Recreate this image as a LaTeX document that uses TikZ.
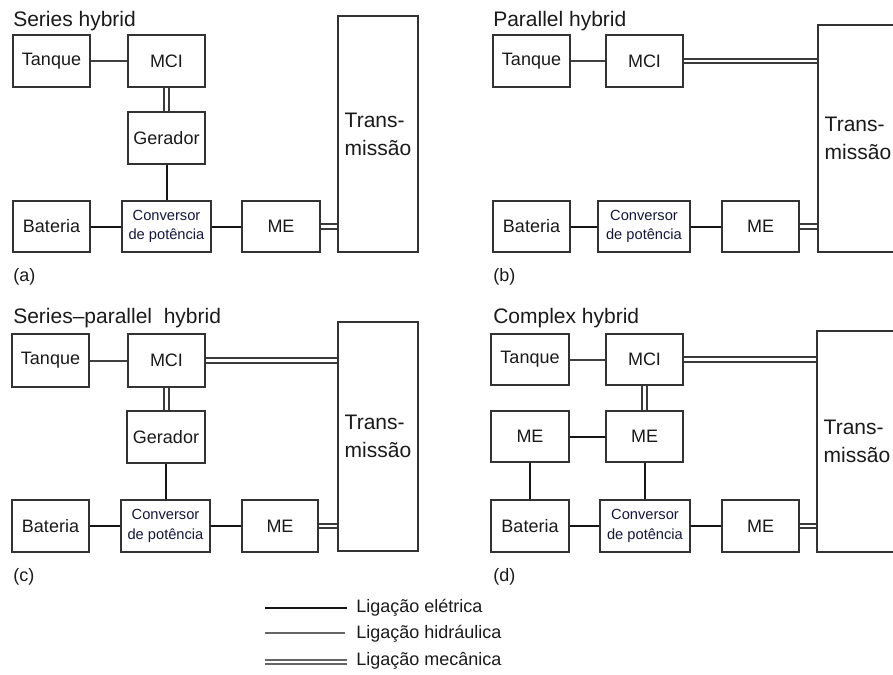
\documentclass[tikz,border=0pt]{standalone}
\usepackage{fontspec}
\setmainfont{Liberation Sans}
\definecolor{boxc}{HTML}{333333}
\definecolor{txt}{HTML}{1A1A1A}
\definecolor{elc}{HTML}{151515}
\definecolor{hydc}{HTML}{404040}
\definecolor{mechc}{HTML}{3A3A3A}
\tikzset{
  box/.style={draw=boxc, line width=1.4pt, fill=white, inner sep=0pt, text=txt,
    font=\fontsize{13.5}{16}\selectfont},
  conv/.style={align=center, font=\fontsize{11}{14.5}\selectfont, text=txt!85!blue},
  trans/.style={align=left, font=\fontsize{15.75}{21}\selectfont},
  elec/.style={draw=elc, line width=1.5pt},
  hyd/.style={draw=hydc, line width=1.5pt},
  mech/.style={draw=mechc, line width=1.5pt, double=white, double distance=2.2pt},
  ttl/.style={anchor=base west, inner sep=0pt, text=txt, font=\fontsize{15.75}{18}\selectfont},
  lab/.style={anchor=west, inner sep=0pt, text=txt, font=\fontsize{13.5}{16}\selectfont},
}
\newcommand\bx[7][]{%
  \pgfmathsetmacro\bxcx{(#3+#5)/2}%
  \pgfmathsetmacro\bxcy{(#4+#6)/2}%
  \pgfmathsetmacro\bxw{(#5-#3)*0.75}%
  \pgfmathsetmacro\bxh{(#6-#4)*0.75}%
  \node[box,#1,minimum width=\bxw pt,minimum height=\bxh pt] (#2) at (\bxcx,\bxcy) {#7};}
\begin{document}
\begin{tikzpicture}[x=0.75pt,y=-0.75pt]
\useasboundingbox (0,0) rectangle (893,675);
\clip (0,0) rectangle (893,675);

% ---------- (a) Series hybrid
\node[ttl] (ta) at (13,26) {Series hybrid};
\bx{aT}{13}{35}{90}{87}{Tanque}
\bx{aM}{128}{35}{205}{87}{MCI}
\bx{aG}{128}{112}{205}{164}{Gerador}
\bx{aB}{13}{201}{90}{252}{Bateria}
\bx[conv]{aC}{122}{201}{211}{252}{Conversor\\de potência}
\bx{aE}{242}{201}{320}{252}{ME}
\bx[trans]{aX}{338}{16}{418}{252}{Trans-\\missão}
\draw[hyd] (aT.east) -- (aM.west);
\draw[mech] (aM.south) -- (aM.south |- aG.north);
\draw[elec] (aG.south) -- (aG.south |- aC.north);
\draw[elec] (aB.east) -- (aC.west);
\draw[elec] (aC.east) -- (aE.west);
\draw[mech] (aE.east) -- (aE.east -| aX.west);
\node[lab] (la) at (13,277) {(a)};

% ---------- (b) Parallel hybrid
\node[ttl] (tb) at (493,26) {Parallel hybrid};
\bx{bT}{493}{35}{570}{87}{Tanque}
\bx{bM}{606}{35}{683}{87}{MCI}
\bx{bB}{493}{201}{570}{252}{Bateria}
\bx[conv]{bC}{598}{201}{690}{252}{Conversor\\de potência}
\bx{bE}{722}{201}{799}{252}{ME}
\bx[trans]{bX}{818}{25}{898}{252}{Trans-\\missão}
\draw[hyd] (bT.east) -- (bM.west);
\draw[mech] (bM.east) -- (bM.east -| bX.west);
\draw[elec] (bB.east) -- (bC.west);
\draw[elec] (bC.east) -- (bE.west);
\draw[mech] (bE.east) -- (bE.east -| bX.west);
\node[lab] (lb) at (493,277) {(b)};

% ---------- (c) Series-parallel hybrid
\node[ttl] (tc) at (13,323) {Series–parallel\ \ hybrid};
\bx{cT}{12}{334}{89}{387}{Tanque}
\bx{cM}{128}{334}{205}{387}{MCI}
\bx{cG}{127}{411}{205}{463}{Gerador}
\bx{cB}{12}{500}{89}{552}{Bateria}
\bx[conv]{cC}{121}{500}{210}{552}{Conversor\\de potência}
\bx{cE}{242}{500}{318}{552}{ME}
\bx[trans]{cX}{338}{322}{418}{551}{Trans-\\missão}
\draw[hyd] (cT.east) -- (cM.west);
\draw[mech] (cM.east) -- (cM.east -| cX.west);
\draw[mech] (cM.south) -- (cM.south |- cG.north);
\draw[elec] (cG.south) -- (cG.south |- cC.north);
\draw[elec] (cB.east) -- (cC.west);
\draw[elec] (cC.east) -- (cE.west);
\draw[mech] (cE.east) -- (cE.east -| cX.west);
\node[lab] (lc) at (13,577) {(c)};

% ---------- (d) Complex hybrid
\node[ttl] (td) at (493,323) {Complex hybrid};
\bx{dT}{491}{334}{569}{385}{Tanque}
\bx{dM}{606}{334}{683}{385}{MCI}
\bx{dL}{491}{411}{569}{462}{ME}
\bx{dN}{606}{411}{683}{462}{ME}
\bx{dB}{491}{500}{569}{552}{Bateria}
\bx[conv]{dC}{600}{500}{690}{552}{Conversor\\de potência}
\bx{dE}{722}{500}{799}{552}{ME}
\bx[trans]{dX}{817}{331}{897}{552}{Trans-\\missão}
\draw[hyd] (dT.east) -- (dM.west);
\draw[mech] (dM.east) -- (dM.east -| dX.west);
\draw[mech] (dM.south) -- (dM.south |- dN.north);
\draw[elec] (dL.east) -- (dN.west);
\draw[elec] (dL.south) -- (dL.south |- dB.north);
\draw[elec] (dN.south) -- (dN.south |- dC.north);
\draw[elec] (dB.east) -- (dC.west);
\draw[elec] (dC.east) -- (dE.west);
\draw[mech] (dE.east) -- (dE.east -| dX.west);
\node[lab] (ld) at (493,577) {(d)};

% ---------- legend
\coordinate (e1) at (265,608); \coordinate (e2) at (347,608);
\coordinate (h1) at (265,633); \coordinate (h2) at (345,633);
\coordinate (m1) at (265,662); \coordinate (m2) at (347,662);
\draw[elec, line width=1.8pt] (e1) -- (e2);
\draw[hyd, draw=gray!80!black] (h1) -- (h2);
\draw[mech, draw=gray!80!black] (m1) -- (m2);
\node[lab] (le) at (356,608) {Ligação elétrica};
\node[lab] (lh) at (356,634) {Ligação hidráulica};
\node[lab] (lm) at (356,661) {Ligação mecânica};
\end{tikzpicture}
\end{document}
